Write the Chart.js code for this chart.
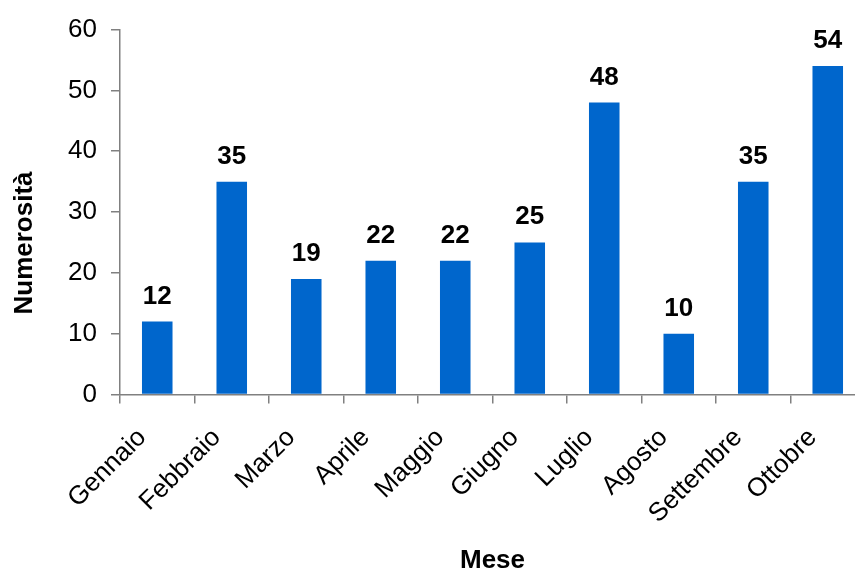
<!DOCTYPE html>
<html>
<head>
    <title>Numerosità per mese</title>
    <script src="https://cdn.jsdelivr.net/npm/chart.js"></script>
    <style>
        html, body { margin: 0; padding: 0; overflow: hidden; background: #fff; }
    </style>
</head>
<body>
    <canvas id="barChart" width="870" height="570"></canvas>

    <script>
        // Data
        var mesi = ["Gennaio", "Febbraio", "Marzo", "Aprile", "Maggio", "Giugno", "Luglio", "Agosto", "Settembre", "Ottobre"];
        var numerosita = [12, 35, 19, 22, 22, 25, 48, 10, 35, 54];
        var yTicks = [0, 10, 20, 30, 40, 50, 60];

        var FONT = "'Liberation Sans', Arial, sans-serif";
        var AXIS_COLOR = "#808080";

        // Values above the bars
        var valueLabels = {
            id: "valueLabels",
            afterDatasetsDraw: function (chart) {
                var ctx = chart.ctx;
                var meta = chart.getDatasetMeta(0);
                ctx.save();
                ctx.font = "bold 26px " + FONT;
                ctx.fillStyle = "#000";
                ctx.textAlign = "center";
                ctx.textBaseline = "alphabetic";
                meta.data.forEach(function (bar, i) {
                    ctx.fillText(String(numerosita[i]), bar.x, bar.y - 18);
                });
                ctx.restore();
            }
        };

        // Y axis title, placed like the original (a bit below the axis centre)
        var yTitle = {
            id: "yTitle",
            afterDraw: function (chart) {
                var ctx = chart.ctx;
                ctx.save();
                ctx.translate(32, 243);
                ctx.rotate(-Math.PI / 2);
                ctx.font = "bold 26px " + FONT;
                ctx.fillStyle = "#000";
                ctx.textAlign = "center";
                ctx.textBaseline = "alphabetic";
                ctx.fillText("Numerosità", 0, 0);
                ctx.restore();
            }
        };

        var canvas = document.getElementById("barChart");

        var chart = new Chart(canvas, {
            type: "bar",
            data: {
                labels: mesi,
                datasets: [{
                    label: "Numerosità",
                    data: numerosita,
                    backgroundColor: "#0066CC",
                    borderWidth: 0,
                    barPercentage: 0.41,
                    categoryPercentage: 1.0
                }]
            },
            options: {
                responsive: false,
                animation: false,
                devicePixelRatio: 1,
                layout: {
                    padding: { top: 28, right: 5, left: 0, bottom: 0 }
                },
                plugins: {
                    legend: { display: false },
                    tooltip: { enabled: false }
                },
                scales: {
                    x: {
                        offset: true,
                        grid: {
                            offset: true,
                            drawOnChartArea: false,
                            drawTicks: true,
                            tickLength: 9,
                            color: AXIS_COLOR,
                            lineWidth: 1.5
                        },
                        border: { color: AXIS_COLOR, width: 1.5 },
                        ticks: {
                            autoSkip: false,
                            minRotation: 45,
                            maxRotation: 45,
                            padding: 19,
                            labelOffset: -15,
                            color: "#000",
                            font: { family: FONT, size: 26 }
                        },
                        title: {
                            display: true,
                            text: "Mese",
                            color: "#000",
                            font: { family: FONT, size: 26, weight: "bold", lineHeight: 0.7 },
                            padding: 0
                        },
                        afterFit: function (scale) {
                            scale.height = 570 - 394.5;
                        }
                    },
                    y: {
                        min: 0,
                        max: 60,
                        afterBuildTicks: function (scale) {
                            scale.ticks = yTicks.map(function (v) { return { value: v }; });
                        },
                        grid: {
                            drawOnChartArea: false,
                            drawTicks: true,
                            tickLength: 9,
                            color: AXIS_COLOR,
                            lineWidth: 1.5
                        },
                        border: { color: AXIS_COLOR, width: 1.5 },
                        ticks: {
                            padding: 14,
                            color: "#000",
                            font: { family: FONT, size: 26 }
                        },
                        afterFit: function (scale) {
                            scale.width = 120;
                        }
                    }
                }
            },
            plugins: [valueLabels, yTitle]
        });
    </script>
</body>
</html>
